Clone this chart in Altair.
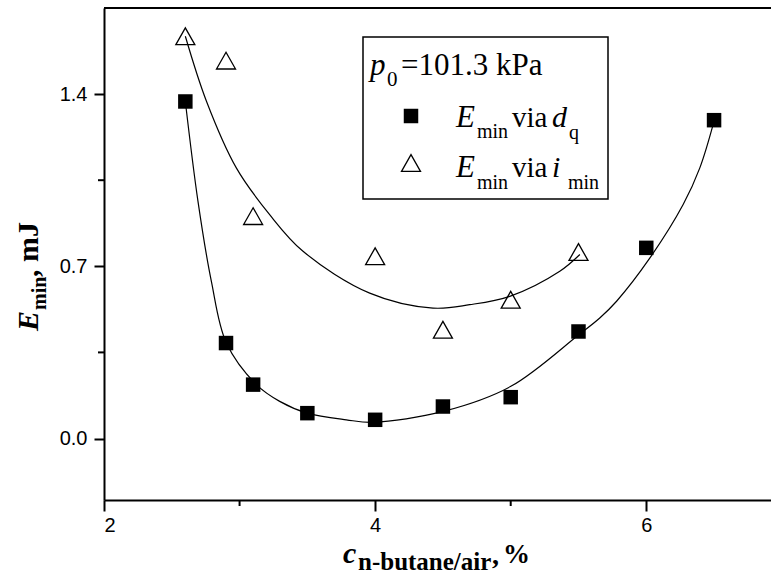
import altair as alt
import pandas as pd

# measured points: E_min via d_q (filled squares)
sq_x = [2.6, 2.9, 3.1, 3.5, 4.0, 4.5, 5.0, 5.5, 6.0, 6.5]
sq_y = [1.370, 0.388, 0.219, 0.103, 0.076, 0.130, 0.168, 0.435, 0.775, 1.294]

# measured points: E_min via i_min (open triangles)
tri_x = [2.6, 2.9, 3.1, 4.0, 4.5, 5.0, 5.5]
tri_y = [1.635, 1.536, 0.904, 0.741, 0.442, 0.564, 0.758]

# fitted curve through squares
fit_sq_x = [2.600, 2.693, 2.792, 2.903, 3.124, 3.296, 3.500, 3.788, 3.985,
            4.501, 5.001, 5.502, 5.657, 5.781, 6.027, 6.272, 6.395, 6.5]
fit_sq_y = [1.370, 0.965, 0.639, 0.388, 0.219, 0.151, 0.103, 0.076, 0.066,
            0.110, 0.212, 0.422, 0.490, 0.558, 0.734, 0.951, 1.100, 1.29]

# fitted curve through triangles
fit_tri_x = [2.600, 2.755, 2.976, 3.222, 3.468, 3.960, 4.427, 4.697, 4.993, 5.362, 5.510]
fit_tri_y = [1.635, 1.372, 1.100, 0.910, 0.761, 0.591, 0.530, 0.544, 0.578, 0.680, 0.748]

x_major = [2, 4, 6]
x_minor = [3, 5]
y_major = [0.0, 0.7, 1.4]
y_minor = [0.35, 1.05]
x_domain = [2, 6.92]
y_domain = [-0.25, 1.75]

W, H = 667, 492

sq_df = pd.DataFrame({"x": sq_x, "y": sq_y})
tri_df = pd.DataFrame({"x": tri_x, "y": tri_y})
fsq_df = pd.DataFrame({"x": fit_sq_x, "y": fit_sq_y})
ftri_df = pd.DataFrame({"x": fit_tri_x, "y": fit_tri_y})
xmin_df = pd.DataFrame({"x": x_minor})
ymin_df = pd.DataFrame({"y": y_minor})
one = pd.DataFrame({"a": [0]})

xs = alt.Scale(domain=x_domain, nice=False, zero=False)
ys = alt.Scale(domain=y_domain, nice=False, zero=False)

SERIF = "Liberation Serif"
TICK = "black"

x_axis = alt.Axis(
    values=x_major, title=None, grid=False, domainColor="black", domainWidth=2,
    ticks=True, tickColor=TICK, tickWidth=2, tickSize=11, format="d",
    labelFont="Liberation Sans", labelFontSize=20, labelColor="black", labelPadding=4,
)
y_axis = alt.Axis(
    values=y_major, title=None, grid=False, domainColor="black", domainWidth=2,
    ticks=True, tickColor=TICK, tickWidth=2, tickSize=10, format=".1f",
    labelFont="Liberation Sans", labelFontSize=20, labelColor="black", labelPadding=7,
)

curve_sq = alt.Chart(fsq_df).mark_line(color="black", strokeWidth=1.2, interpolate="catmull-rom").encode(
    x=alt.X("x:Q", scale=xs, axis=x_axis), y=alt.Y("y:Q", scale=ys, axis=y_axis))
curve_tri = alt.Chart(ftri_df).mark_line(color="black", strokeWidth=1.2, interpolate="catmull-rom").encode(
    x=alt.X("x:Q", scale=xs), y=alt.Y("y:Q", scale=ys))
pts_sq = alt.Chart(sq_df).mark_point(shape="square", filled=True, color="black", size=210, opacity=1).encode(
    x=alt.X("x:Q", scale=xs), y=alt.Y("y:Q", scale=ys))
tri_path = "M0,-0.88L1,0.88L-1,0.88Z"
pts_tri = alt.Chart(tri_df).mark_point(shape=tri_path, filled=False, stroke="black", strokeWidth=1.3,
                                       size=361, opacity=1).encode(
    x=alt.X("x:Q", scale=xs), y=alt.Y("y:Q", scale=ys))

# minor ticks
xminor = alt.Chart(xmin_df).mark_rule(color=TICK, strokeWidth=2).encode(
    x=alt.X("x:Q", scale=xs), y=alt.value(H), y2=alt.value(H + 6))
yminor = alt.Chart(ymin_df).mark_rule(color=TICK, strokeWidth=2).encode(
    y=alt.Y("y:Q", scale=ys), x=alt.value(-6), x2=alt.value(0))

top_border = alt.Chart(one).mark_rule(color="black", strokeWidth=2).encode(
    x=alt.value(0), x2=alt.value(W), y=alt.value(0))


def txt(s, x, y, size, style="normal", weight="normal", angle=0, font=SERIF):
    return alt.Chart(one).mark_text(
        text=s, align="left", baseline="alphabetic", font=font, fontSize=size,
        fontStyle=style, fontWeight=weight, angle=angle, color="black"
    ).encode(x=alt.value(x), y=alt.value(y))


# legend box (plot-area coordinates; origin at plot top-left)
box = alt.Chart(one).mark_rect(fill="white", stroke="black", strokeWidth=1.5).encode(
    x=alt.value(259), x2=alt.value(504), y=alt.value(29), y2=alt.value(191))
leg_sq = alt.Chart(one).mark_point(shape="square", filled=True, color="black", size=210, opacity=1).encode(
    x=alt.value(307), y=alt.value(108))
leg_tri = alt.Chart(one).mark_point(shape=tri_path, filled=False, stroke="black", strokeWidth=1.3,
                                    size=361, opacity=1).encode(x=alt.value(307), y=alt.value(155))

texts = [
    txt("p", 266, 67, 31, style="italic"),
    txt("0", 283, 78, 21),
    txt("=101.3 kPa", 297, 67, 31),
    txt("E", 352, 119, 31, style="italic"),
    txt("min", 373, 130, 20),
    txt("via", 408, 119, 29),
    txt("d", 448, 119, 30, style="italic"),
    txt("q", 465, 131, 20),
    txt("E", 352, 169, 31, style="italic"),
    txt("min", 373, 181, 20),
    txt("via", 408, 169, 29),
    txt("i", 448, 169, 30, style="italic"),
    txt("min", 464, 181, 20),
    # x axis title
    txt("c", 239, 555, 30, style="italic", weight="bold"),
    txt("n-butane/air", 254, 562, 25, weight="bold"),
    txt(",", 388, 556, 28, weight="bold"),
    txt("%", 399, 555, 27, weight="bold"),
    # y axis title (rotated)
    txt("E", -66, 323, 30, style="italic", weight="bold", angle=270),
    txt("min", -58, 302, 20, weight="bold", angle=270),
    txt(", mJ", -66, 269, 30, weight="bold", angle=270),
]

chart = alt.layer(
    curve_sq, curve_tri, pts_sq, pts_tri, xminor, yminor, top_border, box, leg_sq, leg_tri, *texts
).properties(
    width=W, height=H, autosize="none",
    padding={"left": 104, "top": 8, "right": 0, "bottom": 76},
    background="white",
).configure_view(stroke=None)

chart.save("out.html", embed_options={"renderer": "svg", "actions": False})
